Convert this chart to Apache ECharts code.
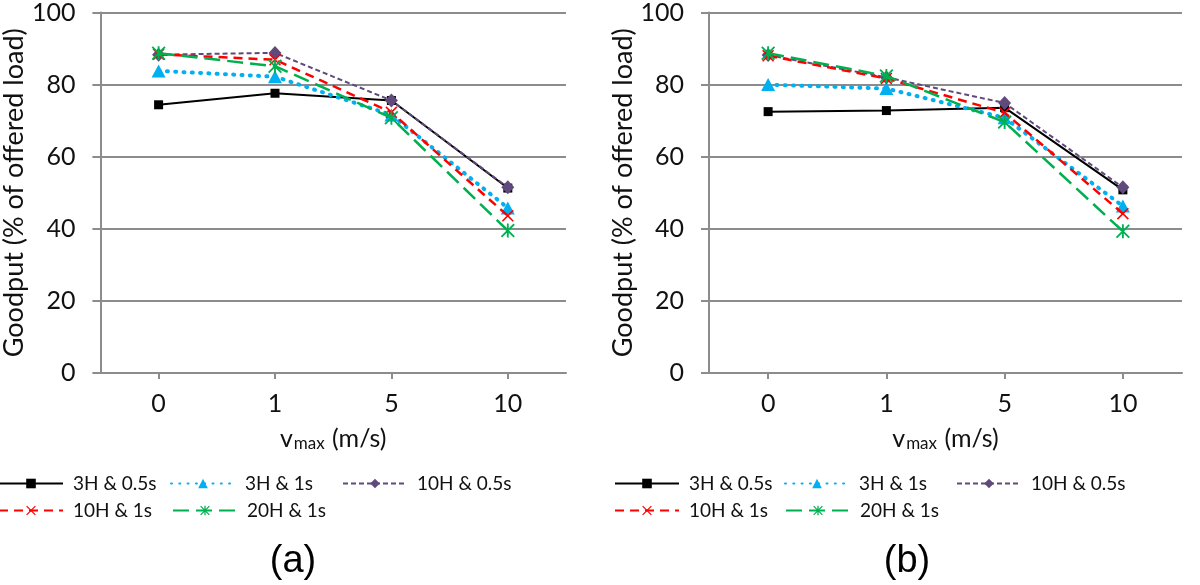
<!DOCTYPE html>
<html>
<head>
<meta charset="utf-8">
<script src="https://cdn.jsdelivr.net/npm/echarts@6/dist/echarts.min.js"></script>
<style>
html,body{margin:0;padding:0;background:#fff;}
#chart{width:1200px;height:585px;}
</style>
</head>
<body>
<div id="chart"></div>
<script>
// ---- data ----
const categories = ['0', '1', '5', '10'];
const seriesNames = ['3H & 0.5s', '3H & 1s', '10H & 0.5s', '10H & 1s', '20H & 1s'];

// panel (a)
const a_3H_05 = [74.4, 77.6, 75.6, 51.3];
const a_3H_1 = [83.8, 82.2, 71.6, 45.8];
const a_10H_05 = [88.3, 88.8, 75.6, 51.5];
const a_10H_1 = [88.4, 86.9, 72.3, 43.6];
const a_20H_1 = [88.7, 85.1, 70.8, 39.5];

// panel (b)
const b_3H_05 = [72.5, 72.8, 73.6, 50.8];
const b_3H_1 = [80.0, 78.9, 70.8, 46.3];
const b_10H_05 = [88.2, 82.0, 74.9, 51.5];
const b_10H_1 = [88.0, 81.7, 72.2, 44.2];
const b_20H_1 = [88.7, 82.4, 69.6, 39.3];

const panelA = [a_3H_05, a_3H_1, a_10H_05, a_10H_1, a_20H_1];
const panelB = [b_3H_05, b_3H_1, b_10H_05, b_10H_1, b_20H_1];

// ---- styles ----
const crossPath = 'path://M1.1,0 L12,10.9 L10.9,12 L0,1.1 Z M10.9,0 L12,1.1 L1.1,12 L0,10.9 Z';
const starPath = 'path://M1.1,0 L12,10.9 L10.9,12 L0,1.1 Z M10.9,0 L12,1.1 L1.1,12 L0,10.9 Z M5.2,0 L6.8,0 L6.8,12 L5.2,12 Z';
const styles = [
  {color: '#000000', width: 2, type: 'solid', cap: 'butt', symbol: 'rect', size: 9},
  {color: '#00B0F0', width: 4, type: [1, 7.3], cap: 'round', symbol: 'triangle', size: [14, 13]},
  {color: '#604A7B', width: 2, type: [5, 3], cap: 'butt', symbol: 'diamond', size: [13, 14]},
  {color: '#FF0000', width: 2.5, type: [9, 6], cap: 'butt', symbol: crossPath, size: 12},
  {color: '#00B050', width: 2.5, type: [16, 7], cap: 'butt', symbol: starPath, size: 14}
];

const FONT = 'Lato';
const gridColor = '#8c8c8c';

function makeX(gi) {
  return {
    type: 'category', gridIndex: gi, data: categories, boundaryGap: true,
    axisLine: {show: true, lineStyle: {color: gridColor, width: 2}},
    axisTick: {show: true, alignWithLabel: true, length: 6, lineStyle: {color: gridColor, width: 2}},
    axisLabel: {fontFamily: FONT, fontSize: 25, color: '#111', margin: 18},
    name: '{v|v}{s|max}{v| (m/s)}',
    nameLocation: 'middle', nameGap: 53,
    nameTextStyle: {
      rich: {
        v: {fontFamily: FONT, fontSize: 25, color: '#111', lineHeight: 26, padding: [0, 0, 8, 0], verticalAlign: 'top'},
        s: {fontFamily: FONT, fontSize: 17, color: '#111', lineHeight: 16, padding: [0, 1, 0, 1], verticalAlign: 'bottom'}
      }
    }
  };
}
function makeY(gi) {
  return {
    type: 'value', gridIndex: gi, min: 0, max: 100, interval: 20,
    axisLine: {show: true, lineStyle: {color: gridColor, width: 2}},
    axisTick: {show: true, length: 8, lineStyle: {color: gridColor, width: 2}},
    splitLine: {show: true, lineStyle: {color: gridColor, width: 2}},
    axisLabel: {fontFamily: FONT, fontSize: 25, color: '#111', margin: 25},
    name: 'Goodput (% of offered load)',
    nameLocation: 'middle', nameRotate: 90, nameGap: 65,
    nameTextStyle: {fontFamily: FONT, fontSize: 27, color: '#111'}
  };
}

const series = [];
[panelA, panelB].forEach((panel, gi) => {
  panel.forEach((vals, i) => {
    const st = styles[i];
    series.push({
      type: 'line', name: seriesNames[i], xAxisIndex: gi, yAxisIndex: gi,
      data: vals, symbol: st.symbol, symbolSize: st.size, showSymbol: true,
      lineStyle: {color: st.color, width: st.width, type: st.type, cap: st.cap},
      itemStyle: {color: st.color, borderWidth: 0},
      emphasis: {disabled: true},
      z: 2 + i
    });
  });
});

// legend item placement (per panel)
const legendPos = [
  [[-2, 473], [170, 473], [342, 473], [-2, 500], [172, 500]],
  [[614, 473], [784, 473], [956, 473], [614, 500], [785, 500]]
];
const legends = [];
legendPos.forEach(panel => {
  panel.forEach((p, i) => {
    legends.push({
      data: [seriesNames[i]], left: p[0], top: p[1], padding: 0,
      itemWidth: 64, itemHeight: 12, selectedMode: false,
      textStyle: {fontFamily: FONT, fontSize: 19, color: '#111', lineHeight: 21, padding: [0, 0, 0, 5]}
    });
  });
});

const chart = echarts.init(document.getElementById('chart'), null, {renderer: 'canvas'});
chart.setOption({
  animation: false,
  backgroundColor: '#fff',
  grid: [
    {left: 92, top: 9, width: 474, height: 364},
    {left: 709, top: 9, width: 473, height: 364}
  ],
  xAxis: [makeX(0), makeX(1)],
  yAxis: [makeY(0), makeY(1)],
  legend: legends,
  series: series,
  graphic: [
    {type: 'text', x: 293, y: 562, style: {text: '(a)', font: '38px "Liberation Sans"', fill: '#000', textAlign: 'center', textVerticalAlign: 'middle'}},
    {type: 'text', x: 907, y: 562, style: {text: '(b)', font: '38px "Liberation Sans"', fill: '#000', textAlign: 'center', textVerticalAlign: 'middle'}}
  ]
});
</script>
</body>
</html>
